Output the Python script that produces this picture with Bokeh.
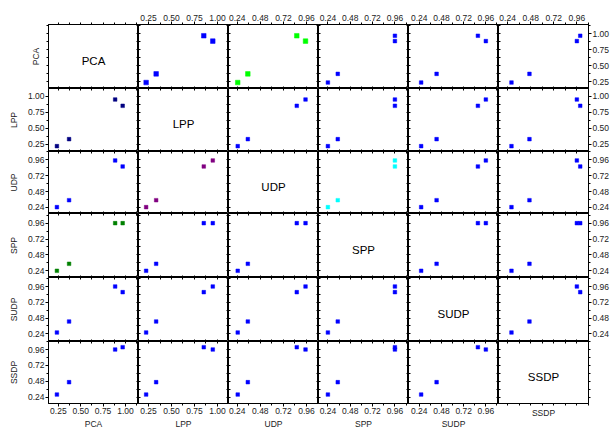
from bokeh.plotting import figure
from bokeh.layouts import gridplot
from bokeh.models import LinearAxis, FixedTicker, PrintfTickFormatter, Range1d
from bokeh.core.properties import value
from bokeh.embed import file_html
from bokeh.resources import INLINE

# ---- data (four data sets per method) ----
names = ["PCA", "LPP", "UDP", "SPP", "SUDP", "SSDP"]
pca = [0.234, 0.370, 0.885, 0.969]
lpp = [0.224, 0.333, 0.949, 0.851]
udp = [0.245, 0.350, 0.950, 0.859]
spp = [0.240, 0.346, 0.960, 0.960]
sudp = [0.260, 0.427, 0.960, 0.874]
ssdp = [0.280, 0.467, 0.960, 0.995]
series = [pca, lpp, udp, spp, sudp, ssdp]

ticks_a = [0.25, 0.50, 0.75, 1.00]
ticks_b = [0.24, 0.48, 0.72, 0.96]
major_ticks = [ticks_a, ticks_a, ticks_b, ticks_b, ticks_b, ticks_b]

# axis ranges per variable
axis_lo = [0.140, 0.141, 0.149, 0.139, 0.123, 0.145]
axis_hi = [1.146, 1.120, 1.085, 1.106, 1.097, 1.081]

# ---- styling ----
FONT = "Liberation Sans"
TICK_FS = "8.5px"
LABEL_FS = "8.5px"
DIAG_FS = "11.5px"
FW = 90
FHS = [64, 63, 62, 64, 64, 62]
LB, RB, TB, BB = 48, 24, 24, 25
BLUE = "#0000FF"
SMALL, LARGE = 3.6, 4.6
special = {
    (0, 1): ("#0000FF", LARGE),
    (0, 2): ("#00FF00", LARGE),
    (1, 0): ("#000080", SMALL),
    (2, 1): ("#800080", SMALL),
    (2, 3): ("#00FFFF", SMALL),
    (3, 0): ("#008000", SMALL),
}


def minor_ticks(ticks, lo, hi):
    step = (ticks[1] - ticks[0]) / 2.0
    out = []
    v = ticks[0]
    while v - step >= lo:
        v -= step
    while v <= hi:
        if all(abs(v - t) > 1e-9 for t in ticks):
            out.append(round(v, 6))
        v += step
    return out


def base_axis(ax):
    ax.axis_line_color = "black"
    ax.axis_line_width = 1
    ax.major_tick_line_color = "black"
    ax.minor_tick_line_color = "black"
    ax.major_label_text_font = FONT
    ax.major_label_text_font_size = TICK_FS
    ax.major_label_text_color = "#222222"
    return ax


def set_label(ax, label_text):
    if label_text is not None:
        ax.axis_label = label_text
        ax.axis_label_text_font = FONT
        ax.axis_label_text_font_size = LABEL_FS
        ax.axis_label_text_font_style = "normal"
        ax.axis_label_text_color = "#222222"


def labelled_axis(k, label_text=None):
    ax = LinearAxis(
        ticker=FixedTicker(ticks=major_ticks[k],
                           minor_ticks=minor_ticks(major_ticks[k], axis_lo[k], axis_hi[k])),
        formatter=PrintfTickFormatter(format="%.2f"),
    )
    base_axis(ax)
    ax.major_tick_out = 3
    ax.major_tick_in = 0
    ax.minor_tick_out = 2
    ax.minor_tick_in = 0
    ax.major_label_standoff = 1
    set_label(ax, label_text)
    return ax


def plain_axis(k, outer, label_text=None):
    # ticks only, no tick labels
    allt = sorted(major_ticks[k] + minor_ticks(major_ticks[k], axis_lo[k], axis_hi[k]))
    ax = LinearAxis(ticker=FixedTicker(ticks=[], minor_ticks=allt))
    base_axis(ax)
    ax.major_tick_out = 0
    ax.major_tick_in = 0
    if outer:
        ax.minor_tick_out = 2
        ax.minor_tick_in = 0
    else:
        ax.minor_tick_out = 0
        ax.minor_tick_in = 2
    ax.major_label_standoff = 1 if outer else 0
    set_label(ax, label_text)
    return ax


rows = []
for r in range(6):
    row = []
    for c in range(6):
        p = figure(
            frame_width=FW, frame_height=FHS[r],
            x_range=Range1d(axis_lo[c], axis_hi[c]),
            y_range=Range1d(axis_lo[r], axis_hi[r]),
            x_axis_location=None, y_axis_location=None,
            toolbar_location=None, output_backend="svg",
            min_border=0,
            min_border_left=LB if c == 0 else 0,
            min_border_right=RB if c == 5 else 0,
            min_border_top=TB if r == 0 else 0,
            min_border_bottom=BB if r == 5 else 0,
            background_fill_color="white", border_fill_color="white",
        )
        p.outline_line_color = "black"
        p.outline_line_width = 1
        p.xgrid.grid_line_color = None
        p.ygrid.grid_line_color = None

        # left
        if c == 0:
            ax = labelled_axis(r, names[r]) if r >= 1 else plain_axis(r, True, names[r])
            ax.axis_label_standoff = 6
        else:
            ax = plain_axis(r, False)
        p.add_layout(ax, "left")
        # right
        if c == 5:
            ax = labelled_axis(r) if r <= 4 else plain_axis(r, True)
        else:
            ax = plain_axis(r, False)
        p.add_layout(ax, "right")
        # top
        if r == 0:
            ax = labelled_axis(c) if c >= 1 else plain_axis(c, True)
        else:
            ax = plain_axis(c, False)
        p.add_layout(ax, "above")
        # bottom
        if r == 5:
            ax = labelled_axis(c, names[c]) if c <= 4 else plain_axis(c, True, names[c])
            ax.axis_label_standoff = 2
        else:
            ax = plain_axis(c, False)
        p.add_layout(ax, "below")

        if r == c:
            p.text(x=[(axis_lo[c] + axis_hi[c]) / 2.0], y=[(axis_lo[r] + axis_hi[r]) / 2.0],
                   text=[names[r]], text_font=value(FONT), text_font_size=DIAG_FS,
                   text_align="center", text_baseline="middle", y_offset=4,
                   text_color="black")
        else:
            col, sz = special.get((r, c), (BLUE, SMALL))
            p.scatter(x=series[c], y=series[r], marker="square", size=sz,
                      fill_color=col, line_color=col, line_width=0.5)
        row.append(p)
    rows.append(row)

grid = gridplot(rows, toolbar_location=None)
open("out.html", "w").write(file_html(grid, INLINE))
